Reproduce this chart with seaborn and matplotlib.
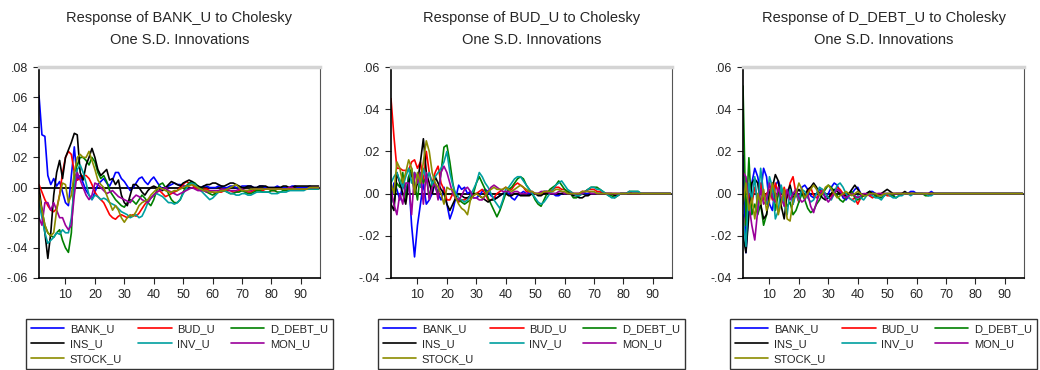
import numpy as np
import pandas as pd
import matplotlib
matplotlib.use('Agg')
import matplotlib.pyplot as plt
from matplotlib.lines import Line2D
import seaborn as sns

# impulse responses in units of 0.001, periods 1..96
SERIES = ['BANK_U', 'BUD_U', 'D_DEBT_U', 'INS_U', 'INV_U', 'MON_U', 'STOCK_U']
SHOCKS = ['BANK_U', 'BUD_U', 'D_DEBT_U']

# --- response to BANK_U ---
bank_bank = [61, 35, 34, 8, 2, 6, 1, 4, -3, -10,
             -12, 8, 27, 5, 8, 3, -2, -5, -8, -3,
             2, 4, 6, 3, 1, 5, 10, 10, 6, 4,
             1, -2, 0, 3, 6, 7, 4, 2, 5, 7,
             4, 1, -1, 0, 1, 2, 3, 2, 2, 1,
             1, 2, 3, 2, 1, 0, 1, 1, 0, 0,
             0, 1, 1, 0, 0, 1, 1, 0, 0, 1,
             1, 1, 1, 0, 0, 1, 1, 0, 0, 0,
             0, 1, 0, 0, 0, 0, 1, 1, 0, 0,
             0, 0, 1, 0, 0, 0]
bank_bud = [2, -3, -8, -12, -15, -16, -14, -5, 10, 20,
            24, 22, 10, 5, 6, 8, 8, 6, 2, -3,
            -6, -8, -10, -14, -18, -20, -21, -19, -18, -19,
            -20, -19, -18, -19, -17, -14, -11, -9, -7, -5,
            -3, -2, -4, -6, -5, -4, -3, -2, 0, 2,
            4, 3, 2, 0, -1, -2, -1, -1, -2, -3,
            -4, -3, -3, -2, -2, -2, -3, -3, -2, -2,
            -2, -3, -3, -2, -2, -2, -2, -1, -1, -2,
            -2, -1, -1, -1, -1, -1, -1, -1, -1, -1,
            -1, -1, -1, -1, -1, -1]
bank_debt = [-5, -15, -25, -30, -32, -33, -30, -28, -35, -40,
             -43, -30, 10, 15, 20, 20, 18, 15, 20, 17,
             10, 6, 8, 4, -2, -5, -8, -10, -12, -13,
             -10, -8, -9, -11, -8, -5, -7, -10, -12, -8,
             -2, 2, 3, 0, -4, -8, -10, -10, -8, -3,
             1, 3, 4, 3, 1, 0, -2, -3, -4, -5,
             -4, -3, -2, -2, -3, -4, -4, -3, -3, -2,
             -3, -4, -4, -3, -2, -2, -3, -3, -3, -2,
             -2, -3, -3, -2, -2, -2, -1, -1, -1, -1,
             -1, -1, -1, -1, -1, -1]
bank_ins = [0, -15, -30, -47, -30, -5, 10, 18, 6, 20,
            25, 30, 36, 35, 10, 5, 15, 20, 26, 20,
            12, 8, 10, 12, 5, 6, 2, 5, -5, -10,
            -12, -5, 2, 2, 0, -3, -5, -2, 0, 1,
            0, -1, -2, 0, 2, 4, 3, 2, 1, 3,
            4, 5, 4, 2, 1, 0, 1, 2, 2, 3,
            3, 2, 1, 1, 2, 3, 3, 2, 1, 0,
            0, 1, 1, 0, 0, 1, 1, 1, 0, 0,
            0, 0, 0, 1, 1, 0, 0, 1, 1, 1,
            1, 1, 1, 1, 1, 1]
bank_inv = [-10, -20, -30, -37, -35, -33, -30, -31, -28, -30,
            -30, -20, 0, 12, 15, 10, 3, -5, -8, -5,
            -6, -8, -7, -8, -10, -11, -12, -14, -16, -17,
            -18, -20, -19, -18, -20, -19, -15, -10, -7, -5,
            -4, -5, -6, -8, -10, -10, -11, -10, -8, -4,
            -1, 2, 3, 2, 0, -2, -4, -6, -8, -7,
            -5, -3, -2, -2, -3, -4, -4, -5, -5, -4,
            -4, -5, -5, -4, -3, -3, -3, -3, -3, -4,
            -4, -4, -3, -3, -3, -2, -2, -2, -2, -2,
            -2, -1, -1, -1, -1, -1]
bank_mon = [-20, -25, -10, -10, -15, -10, -15, -20, -20, -25,
            -28, -25, -5, 10, 5, 0, -5, -8, -5, 3,
            2, 0, -2, -4, -3, -2, -4, -6, -7, -8,
            -9, -10, -7, -5, -6, -8, -9, -10, -7, -5,
            -3, -2, -1, 0, -2, -3, -4, -5, -4, -3,
            -2, -1, 0, -1, -2, -2, -2, -3, -2, -2,
            -2, -2, -1, -1, -1, -2, -2, -2, -1, -1,
            -2, -2, -2, -1, -1, -1, -1, -1, -1, -1,
            -1, -1, -1, -1, -1, 0, 0, -1, -1, -1,
            -1, -1, 0, 0, 0, 0]
bank_stock = [-5, -15, -25, -30, -32, -30, -15, -5, 3, 2,
              -10, -5, 10, 20, 22, 20, 20, 24, 18, 12,
              5, 2, 0, -5, -10, -15, -12, -15, -20, -23,
              -20, -18, -19, -16, -12, -10, -9, -8, -5, -3,
              -1, 0, -1, -2, -3, -3, -2, -2, -1, 0,
              1, 1, 2, 1, 0, -1, -2, -2, -3, -3,
              -3, -3, -2, -2, -1, 0, 1, 2, 0, -2,
              -2, -2, -1, -1, -1, -1, -1, -1, -1, -1,
              -1, -1, -1, -1, -1, -1, -1, -1, -1, -1,
              -1, -1, 0, 0, 0, 0]

# --- response to BUD_U ---
bud_bank = [-5, 5, 2, -3, 5, 0, 8, -15, -30, -15,
            -5, 5, -5, -3, 0, 5, 0, -3, 3, -5,
            -12, -8, -2, 4, 2, 3, 0, 1, -2, -2,
            -1, 1, 2, 1, -1, -2, -2, -1, 0, 1,
            0, -2, -3, -1, 0, 1, 0, 0, 0, 0,
            0, 0, 1, 1, 0, 0, -1, -1, 0, 0,
            0, 0, 0, 0, 0, 1, 0, 0, 0, 0,
            0, 0, 0, 0, 0, 0, 0, 0, 0, 0,
            0, 0, 0, 0, 0, 0, 0, 0, 0, 0,
            0, 0, 0, 0, 0, 0]
bud_bud = [45, 27, 12, 12, 11, 11, 11, 15, 16, 12,
           15, 5, 20, 10, 5, 10, 13, 5, 2, -3,
           -3, 0, -2, -4, -3, -3, -2, -2, -1, 0,
           1, 2, 0, -3, -3, -2, 0, 1, 2, 3,
           2, 2, 4, 5, 4, 3, 1, 1, 0, 0,
           0, 0, 0, 1, 1, 2, 3, 3, 2, 2,
           1, 1, 0, 0, 0, 1, 1, 2, 2, 2,
           1, 1, 0, 0, 0, 0, 0, 0, 0, 0,
           0, 1, 0, 0, 0, 0, 0, 0, 0, 0,
           0, 0, 0, 0, 0, 0]
bud_debt = [0, -5, 5, 3, 10, -3, 8, 12, 5, -3,
            10, 5, 8, -2, 6, 3, 0, 10, 22, 23,
            15, 5, -2, -3, -4, -5, -4, -3, 0, 5,
            8, 5, 2, -2, -5, -8, -11, -8, -4, 0,
            2, 3, 5, 7, 8, 7, 4, 2, 0, -3,
            -5, -6, -3, 0, 2, 3, 4, 6, 4, 2,
            1, 0, -2, -2, -1, 0, 1, 2, 3, 3,
            3, 2, 1, 0, -1, -1, -2, -1, 0, 0,
            0, 1, 1, 1, 1, 0, 0, 0, 0, 0,
            0, 0, 0, 0, 0, 0]
bud_ins = [-5, -8, 10, 5, 0, -5, 5, 10, 0, 5,
           15, 26, 10, 5, 0, 8, 5, 2, 0, -5,
           -8, -5, -2, 0, -1, -2, -2, -1, 0, 0,
           -1, -2, -3, -4, -3, -3, -2, -1, 0, 0,
           -1, -1, 0, 0, -1, -1, -1, -1, 0, 0,
           -1, -1, 0, 0, 0, 0, 0, 0, 0, 0,
           0, 0, -1, -1, -2, -2, -1, -1, 0, 0,
           0, 0, 0, 0, 0, 0, -1, -1, 0, 0,
           0, 0, 0, 0, 0, 0, 0, 0, 0, 0,
           0, 0, 0, 0, 0, 0]
bud_inv = [5, 8, 10, 6, 3, 8, 12, 5, 10, 8,
           3, 12, 6, 10, 4, 8, 10, 12, 15, 20,
           10, 4, 0, -2, -3, -4, -3, -1, 2, 5,
           10, 8, 5, 3, 0, -3, -5, -7, -3, 2,
           3, 5, 7, 8, 8, 6, 4, 2, 0, -2,
           -4, -5, -4, -2, 0, 2, 4, 5, 6, 4,
           2, 1, 0, -1, -1, 0, 1, 2, 3, 3,
           2, 2, 1, 0, -1, -2, -2, -1, 0, 0,
           0, 1, 1, 1, 1, 0, 0, 0, 0, 0,
           0, 0, 0, 0, 0, 0]
bud_mon = [2, -5, -10, 0, -5, 5, 5, -10, 10, 5,
           10, -5, 10, -3, 3, 5, -3, 10, 13, 10,
           5, 0, -2, -3, -1, 2, 3, 1, -2, -2,
           -3, -3, -1, 1, 3, 4, 3, 2, 1, 1,
           1, 0, 1, 1, 0, 0, 0, 1, 1, 0,
           0, 1, 1, 1, 0, 0, 0, 1, 1, 0,
           0, 0, 0, 0, 0, 0, 1, 1, 0, 0,
           0, 0, 0, 0, 0, 0, 0, 0, 0, 0,
           0, 0, 0, 0, 0, 0, 0, 0, 0, 0,
           0, 0, 0, 0, 0, 0]
bud_stock = [5, 0, 15, 12, 5, 10, 16, 12, 0, 10,
             5, 15, 25, 20, 10, 5, 3, 0, -5, 3,
             2, 2, -2, -5, -7, -8, -10, -3, -1, 0,
             -1, -2, -1, 1, 2, 3, 2, 2, 2, 3,
             2, 1, 2, 3, 4, 3, 2, 1, 1, 0,
             0, 0, 1, 1, 1, 1, 2, 2, 1, 1,
             0, 0, 0, 0, 0, 1, 1, 1, 1, 1,
             0, 0, 0, 0, 0, 0, 0, 0, 0, 0,
             0, 0, 0, 0, 0, 0, 0, 0, 0, 0,
             0, 0, 0, 0, 0, 0]

# --- response to D_DEBT_U ---
debt_bank = [18, -28, -5, 5, 12, 8, 0, 12, 8, -5,
             -8, 4, 6, 2, -3, 0, 3, -5, 2, -4,
             3, 4, 2, -1, -2, 0, 2, 1, -2, 0,
             3, 5, 4, 1, -2, -3, -1, 0, 2, 3,
             0, -1, 0, 1, 1, 0, -1, -1, 0, 0,
             -1, -1, 0, 0, 0, 0, 0, 1, 1, 0,
             0, 0, 0, 0, 1, 0, 0, 0, 0, 0,
             0, 0, 0, 0, 0, 0, 0, 0, 0, 0,
             0, 0, 0, 0, 0, 0, 0, 0, 0, 0,
             0, 0, 0, 0, 0, 0]
debt_bud = [-20, -10, 0, -5, 3, -2, 5, -3, 0, 2,
            -3, 5, 0, -4, 3, -2, 5, 8, 0, -4,
            2, -2, 1, 3, -1, -2, 0, 2, 0, -2,
            -1, 1, 3, 2, 0, -1, -2, -3, -2, -5,
            -2, -1, 0, -1, -2, -1, 0, 0, 0, -1,
            -1, 0, 0, 0, 0, 0, 0, 0, 0, 0,
            0, 0, 0, 0, 0, 0, 0, 0, 0, 0,
            0, 0, 0, 0, 0, 0, 0, 0, 0, 0,
            0, 0, 0, 0, 0, 0, 0, 0, 0, 0,
            0, 0, 0, 0, 0, 0]
debt_debt = [51, -15, 17, -10, -5, -10, -5, -15, -10, 0,
             5, -8, 0, 3, -2, -6, -4, -10, -8, -4,
             0, -3, -7, -9, -8, -5, -3, 0, 2, 4,
             3, 1, -1, -3, -4, -2, 0, 1, -2, -3,
             -2, -1, 0, 1, 0, -1, -2, -2, -1, 0,
             0, -1, -2, -1, 0, 0, 0, 0, 0, 0,
             0, 0, -1, -1, 0, 0, 0, 0, 0, 0,
             0, 0, 0, 0, 0, 0, 0, 0, 0, 0,
             0, 0, 0, 0, 0, 0, 0, 0, 0, 0,
             0, 0, 0, 0, 0, 0]
debt_ins = [-20, -28, -10, 5, 7, 5, -5, -12, -10, 0,
            3, 9, 6, -6, -12, 0, 4, -2, 0, 2,
            0, -1, 2, 3, 5, 3, 0, -2, -3, -2,
            0, 2, 1, 0, -1, -1, 0, 2, 4, 2,
            0, -1, 0, 1, 0, 0, -1, 0, 1, 2,
            1, 0, 0, 0, 0, 1, 0, 0, 0, 0,
            0, 0, 0, 0, 0, 0, 0, 0, 0, 0,
            0, 0, 0, 0, 0, 0, 0, 0, 0, 0,
            0, 0, 0, 0, 0, 0, 0, 0, 0, 0,
            0, 0, 0, 0, 0, 0]
debt_inv = [-10, -25, 5, -3, 8, -8, 12, 0, -5, 8,
            3, -12, -8, 4, -5, -10, 2, -5, 0, -3,
            2, 1, -2, -4, -3, 0, 3, 2, 0, -2,
            -3, 0, 4, 5, 3, 0, -2, -3, -4, -1,
            -2, -3, -1, 0, -1, -2, -2, -3, -1, 0,
            -1, -2, -2, -1, -1, 0, 0, -1, 0, 0,
            0, 0, 0, -1, -1, 0, 0, 0, 0, 0,
            0, 0, 0, 0, 0, 0, 0, 0, 0, 0,
            0, 0, 0, 0, 0, 0, 0, 0, 0, 0,
            0, 0, 0, 0, 0, 0]
debt_mon = [10, 8, -5, -15, -22, -8, 2, -5, -3, 5,
            -2, -4, 3, -2, -6, 2, -3, 0, 2, -2,
            -4, -3, 0, -6, -9, -4, 0, 1, -2, -4,
            -2, 0, 2, 1, -1, -2, -1, 0, -1, -2,
            -1, 0, 0, -1, 0, 0, 0, 0, 0, 0,
            0, 0, 0, 0, 0, 0, 0, 0, 0, 0,
            0, 0, 0, 0, 0, 0, 0, 0, 0, 0,
            0, 0, 0, 0, 0, 0, 0, 0, 0, 0,
            0, 0, 0, 0, 0, 0, 0, 0, 0, 0,
            0, 0, 0, 0, 0, 0]
debt_stock = [-5, 5, -8, -2, -12, 0, -5, 2, -8, -3,
              5, 0, -10, -4, 2, -12, -13, -3, 0, 5,
              2, -2, 0, 2, 4, 2, -1, 0, 3, 4,
              2, 0, -2, -1, 0, 1, 0, -1, 0, 1,
              0, -1, -1, 0, 0, 0, -1, -1, 0, 0,
              0, 0, 0, 0, 0, 0, 0, 0, 0, 0,
              0, 0, 0, 0, 0, 0, 0, 0, 0, 0,
              0, 0, 0, 0, 0, 0, 0, 0, 0, 0,
              0, 0, 0, 0, 0, 0, 0, 0, 0, 0,
              0, 0, 0, 0, 0, 0]

responses = {
    'BANK_U': [bank_bank, bank_bud, bank_debt, bank_ins, bank_inv, bank_mon, bank_stock],
    'BUD_U': [bud_bank, bud_bud, bud_debt, bud_ins, bud_inv, bud_mon, bud_stock],
    'D_DEBT_U': [debt_bank, debt_bud, debt_debt, debt_ins, debt_inv, debt_mon, debt_stock],
}

y_limits = {'BANK_U': (-0.06, 0.08), 'BUD_U': (-0.04, 0.06), 'D_DEBT_U': (-0.04, 0.06)}

colors = {
    'BANK_U': '#0000ff',
    'BUD_U': '#ff0000',
    'D_DEBT_U': '#008000',
    'INS_U': '#000000',
    'INV_U': '#00a0a0',
    'MON_U': '#9b009b',
    'STOCK_U': '#8c8c00',
}

sns.set_style('white')
plt.rcParams['font.family'] = ['Liberation Sans', 'DejaVu Sans']

W, H = 1040, 370
fig = plt.figure(figsize=(W / 100, H / 100), dpi=100)

ax_left_px = [39, 391, 743]
ax_w_px = 281
ax_top_px, ax_bot_px = 67, 278


def fmt_tick(v):
    s = f'{abs(v):.2f}'.lstrip('0')
    return ('-' + s) if v < 0 else s


for k, shock in enumerate(SHOCKS):
    left = ax_left_px[k]
    ax = fig.add_axes([left / W, (H - ax_bot_px) / H,
                       ax_w_px / W, (ax_bot_px - ax_top_px) / H])

    rows = []
    for name, vals in zip(SERIES, responses[shock]):
        for p, v in enumerate(vals, start=1):
            rows.append({'period': p, 'value': v / 1000.0, 'series': name})
    df = pd.DataFrame(rows)

    ax.axhline(0, color='black', linewidth=1.3, zorder=1)
    sns.lineplot(data=df, x='period', y='value', hue='series',
                 hue_order=SERIES, palette=colors, linewidth=1.2,
                 errorbar=None, legend=False, ax=ax)

    lo, hi = y_limits[shock]
    ax.set_xlim(1, 96.5)
    ax.set_ylim(lo, hi)
    yt = np.round(np.arange(lo, hi + 1e-9, 0.02), 2)
    ax.set_yticks(yt)
    ax.set_yticklabels([fmt_tick(v) for v in yt])
    ax.set_xticks(range(10, 100, 10))
    ax.set_xlabel('')
    ax.set_ylabel('')
    ax.tick_params(axis='both', direction='out', length=4, width=0.8,
                   labelsize=9, pad=4, left=True, bottom=True)

    for side in ['left', 'bottom']:
        ax.spines[side].set_color('black')
        ax.spines[side].set_linewidth(1.2)
    ax.spines['right'].set_color('#555555')
    ax.spines['right'].set_linewidth(0.8)
    ax.spines['top'].set_color('#d4d4d4')
    ax.spines['top'].set_linewidth(2.5)

    cx = (left + ax_w_px / 2) / W
    fig.text(cx, 1 - 18 / H, f'Response of {shock} to Cholesky',
             ha='center', va='center', fontsize=10.5)
    fig.text(cx, 1 - 40 / H, 'One S.D. Innovations',
             ha='center', va='center', fontsize=10.5)

    # legend: rows BANK/BUD/D_DEBT, INS/INV/MON, STOCK
    order = ['BANK_U', 'INS_U', 'STOCK_U', 'BUD_U', 'INV_U', 'D_DEBT_U', 'MON_U']
    handles = [Line2D([0], [0], color=colors[s], linewidth=1.2) for s in order]
    lx0 = (left - 13) / W
    lw = (ax_w_px + 26) / W
    leg = fig.legend(handles, order, loc='upper left',
                     bbox_to_anchor=(lx0, 1 - 369 / H, lw, 50 / H),
                     mode='expand', ncol=3, fontsize=8, frameon=True,
                     fancybox=False, edgecolor='black', handlelength=3.0,
                     handletextpad=0.5, labelspacing=0.45, borderpad=0.45,
                     borderaxespad=0, columnspacing=1.0)
    leg.get_frame().set_linewidth(1.0)

fig.savefig('out.png', dpi=100)
